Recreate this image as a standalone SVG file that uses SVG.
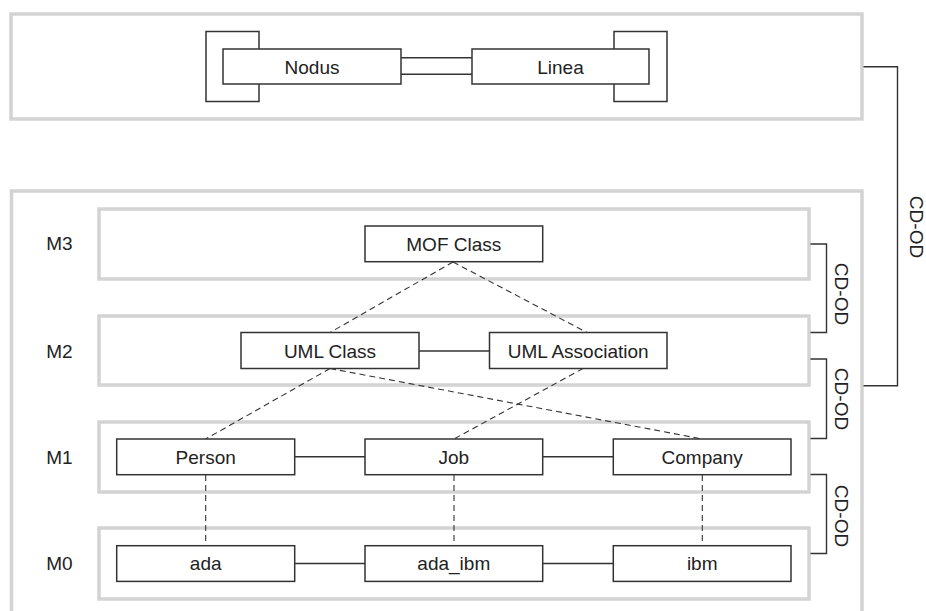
<svg xmlns="http://www.w3.org/2000/svg" width="926" height="611" viewBox="0 0 926 611">
  <style>
    .frame { fill: #ffffff; stroke: #d3d3d3; stroke-width: 3.5; }
    .box { fill: #ffffff; stroke: #333333; stroke-width: 1.5; }
    .line { fill: none; stroke: #333333; stroke-width: 1.4; }
    .dash { fill: none; stroke: #333333; stroke-width: 1.1; stroke-dasharray: 6 4; }
    .label { font-family: "Liberation Sans", Arial, sans-serif; font-size: 19px; fill: #222222; text-anchor: middle; }
  </style>
  <rect width="926" height="611" fill="#ffffff"/>

  <!-- meta-metamodel frame -->
  <g id="top-frame">
    <rect class="frame" x="11" y="14" width="851" height="105"/>
  </g>
  <g id="nodus">
    <rect class="box" x="206" y="31.5" width="53" height="70"/>
    <rect class="box" x="223" y="49" width="178" height="35"/>
    <text class="label" x="312" y="73.5">Nodus</text>
  </g>
  <g id="linea">
    <rect class="box" x="614" y="31.5" width="53" height="70"/>
    <rect class="box" x="472" y="49" width="177" height="35"/>
    <text class="label" x="560.5" y="73.5">Linea</text>
  </g>

  <!-- layered frame -->
  <g id="layers-frame">
    <rect class="frame" x="11.5" y="191" width="850.5" height="430"/>
  </g>
  <g id="m3">
    <rect class="frame" x="99" y="209" width="710" height="70"/>
    <text class="label" x="59.5" y="250">M3</text>
  </g>
  <g id="m2">
    <rect class="frame" x="99" y="316" width="710" height="69"/>
    <text class="label" x="59.5" y="357.5">M2</text>
  </g>
  <g id="m1">
    <rect class="frame" x="99" y="422" width="710" height="70"/>
    <text class="label" x="59.5" y="463.5">M1</text>
  </g>
  <g id="m0">
    <rect class="frame" x="99" y="528" width="710" height="71"/>
    <text class="label" x="59.5" y="570">M0</text>
  </g>

  <!-- connectors -->
  <g id="connectors">
    <!-- Nodus-Linea double line -->
    <path class="line" d="M401,57.7 H472 M401,74.3 H472"/>
    <!-- instance-of (dashed) -->
    <path class="dash" d="M453,262 L330,332.5"/>
    <path class="dash" d="M453,262 L587,332.5"/>
    <path class="dash" d="M330,368.5 L205.7,439"/>
    <path class="dash" d="M330,368.5 L702.3,439"/>
    <path class="dash" d="M583,368.5 L454,439"/>
    <path class="dash" d="M205.7,475 V545.7"/>
    <path class="dash" d="M454,475 V545.7"/>
    <path class="dash" d="M702.3,475 V545.7"/>
    <!-- associations / links -->
    <path class="line" d="M419,351 H489.5"/>
    <path class="line" d="M295,456.7 H365 M543,456.7 H613.5"/>
    <path class="line" d="M295,563.5 H365 M543,563.5 H613.5"/>
    <!-- CD-OD brackets -->
    <path class="line" d="M810.5,244 H826.5 V332.5 H810.5"/>
    <path class="line" d="M810.5,359 H826.5 V438.5 H810.5"/>
    <path class="line" d="M810.5,474.5 H826.5 V553.5 H810.5"/>
    <path class="line" d="M863.5,66.7 H897.5 V385.7 H863.5"/>
  </g>

  <!-- M-level nodes -->
  <g id="mof-class">
    <rect class="box" x="365" y="226" width="177.7" height="35.7"/>
    <text class="label" x="453.8" y="250.5">MOF Class</text>
  </g>
  <g id="uml-class">
    <rect class="box" x="241" y="332.5" width="178" height="36"/>
    <text class="label" x="330" y="357.5">UML Class</text>
  </g>
  <g id="uml-association">
    <rect class="box" x="489.5" y="332.5" width="177.5" height="36"/>
    <text class="label" x="578.2" y="357.5">UML Association</text>
  </g>
  <g id="person">
    <rect class="box" x="116.7" y="439" width="178" height="35.7"/>
    <text class="label" x="205.7" y="463.5">Person</text>
  </g>
  <g id="job">
    <rect class="box" x="365" y="439" width="177.7" height="35.7"/>
    <text class="label" x="453.8" y="463.5">Job</text>
  </g>
  <g id="company">
    <rect class="box" x="613.3" y="439" width="177.7" height="35.7"/>
    <text class="label" x="702.2" y="463.5">Company</text>
  </g>
  <g id="ada">
    <rect class="box" x="116.7" y="545.7" width="178" height="35.7"/>
    <text class="label" x="205.7" y="570">ada</text>
  </g>
  <g id="ada-ibm">
    <rect class="box" x="365" y="545.7" width="177.7" height="35.7"/>
    <text class="label" x="453.8" y="570">ada_ibm</text>
  </g>
  <g id="ibm">
    <rect class="box" x="613.3" y="545.7" width="177.7" height="35.7"/>
    <text class="label" x="702.2" y="570">ibm</text>
  </g>

  <!-- CD-OD labels -->
  <g id="cd-od-labels">
    <text class="label" transform="translate(841.7,294) rotate(90)" y="6.8">CD-OD</text>
    <text class="label" transform="translate(841.7,399) rotate(90)" y="6.8">CD-OD</text>
    <text class="label" transform="translate(841.7,516) rotate(90)" y="6.8">CD-OD</text>
    <text class="label" transform="translate(917,227) rotate(90)" y="6.8">CD-OD</text>
  </g>
</svg>
